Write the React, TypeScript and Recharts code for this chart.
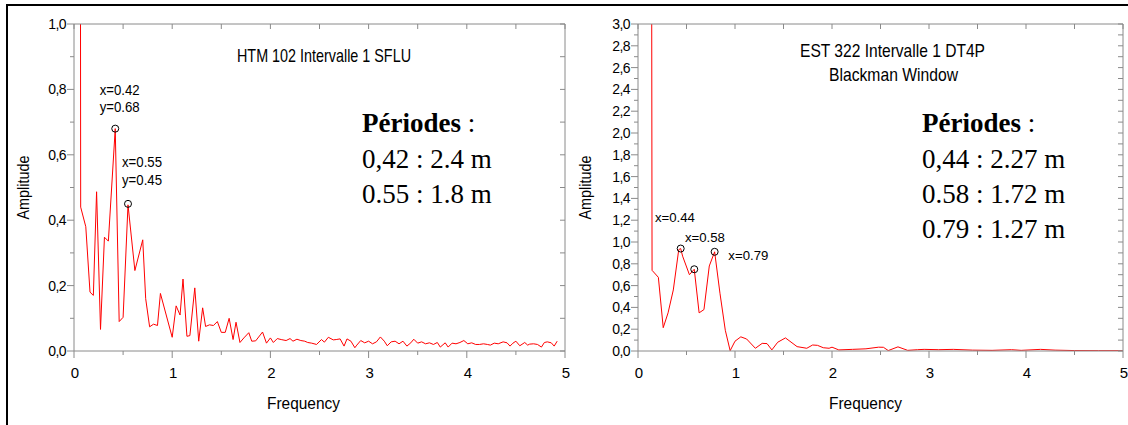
import React from "react";
import { LineChart, Line, XAxis, YAxis, ReferenceDot } from "recharts";

// left panel: HTM 102, amplitude spectrum (first point runs off the top)
const leftFreq = [
  0.06, 0.068, 0.12, 0.163, 0.197, 0.23, 0.27, 0.31, 0.35, 0.42, 0.46, 0.5, 0.55, 0.62, 0.7, 0.73,
  0.77, 0.81, 0.85, 0.88, 1.0, 1.04, 1.08, 1.11, 1.15, 1.18, 1.23, 1.27, 1.31, 1.34, 1.38, 1.42,
  1.46, 1.5, 1.54, 1.58, 1.62, 1.65, 1.69, 1.73, 1.78, 1.81, 1.85, 1.92, 1.96, 2.0, 2.03, 2.07,
  2.11, 2.16, 2.2, 2.23, 2.27, 2.31, 2.35, 2.38, 2.42, 2.47, 2.52, 2.55, 2.59, 2.64, 2.67, 2.71,
  2.75, 2.78, 2.82, 2.86, 2.88, 2.92, 2.96, 3.0, 3.04, 3.08, 3.12, 3.16, 3.19, 3.23, 3.27, 3.31,
  3.35, 3.39, 3.43, 3.46, 3.5, 3.54, 3.58, 3.62, 3.66, 3.7, 3.73, 3.78, 3.81, 3.85, 3.89, 3.93,
  3.97, 4.01, 4.05, 4.09, 4.13, 4.17, 4.21, 4.24, 4.28, 4.32, 4.37, 4.41, 4.44, 4.47, 4.5, 4.54,
  4.59, 4.62, 4.64, 4.68, 4.72, 4.76, 4.79, 4.82, 4.86, 4.89, 4.92,
];
const leftAmp = [
  3.0, 0.44, 0.38, 0.18, 0.17, 0.487, 0.066, 0.348, 0.336, 0.68, 0.09, 0.103, 0.447, 0.246, 0.34, 0.16,
  0.074, 0.082, 0.078, 0.176, 0.042, 0.138, 0.11, 0.22, 0.045, 0.047, 0.193, 0.03, 0.132, 0.075, 0.08, 0.078,
  0.09, 0.057, 0.057, 0.1, 0.035, 0.088, 0.026, 0.04, 0.056, 0.03, 0.031, 0.058, 0.024, 0.04, 0.026, 0.038,
  0.035, 0.032, 0.038, 0.03, 0.036, 0.032, 0.03, 0.026, 0.024, 0.02, 0.035, 0.027, 0.042, 0.034, 0.035, 0.037,
  0.015, 0.037, 0.03, 0.01, 0.018, 0.032, 0.025, 0.03, 0.022, 0.028, 0.043, 0.03, 0.016, 0.028, 0.03, 0.022,
  0.03, 0.015, 0.025, 0.036, 0.024, 0.028, 0.022, 0.025, 0.02, 0.026, 0.012, 0.025, 0.012, 0.024, 0.022, 0.026,
  0.032, 0.022, 0.025, 0.02, 0.02, 0.022, 0.02, 0.018, 0.024, 0.022, 0.028, 0.025, 0.015, 0.024, 0.03, 0.016,
  0.026, 0.018, 0.021, 0.022, 0.02, 0.012, 0.026, 0.028, 0.025, 0.015, 0.03,
];

// right panel: EST 322, Blackman window
const rightFreq = [
  0.14, 0.145, 0.21, 0.26, 0.31, 0.364, 0.42, 0.44, 0.46, 0.53, 0.58, 0.63, 0.68, 0.735, 0.79, 0.845,
  0.9, 0.95, 1.0, 1.06, 1.12, 1.21, 1.28, 1.33, 1.38, 1.44, 1.52, 1.64, 1.74, 1.8, 1.85, 1.91,
  1.97, 2.0, 2.07, 2.21, 2.35, 2.48, 2.53, 2.58, 2.68, 2.78, 2.88, 2.95, 3.1, 3.25, 3.45, 3.65,
  3.85, 3.95, 4.15, 4.3, 4.5, 4.75, 5.0,
];
const rightAmp = [
  4.0, 0.74, 0.676, 0.214, 0.35, 0.56, 0.93, 0.94, 0.87, 0.7, 0.75, 0.35, 0.38, 0.78, 0.91, 0.53,
  0.19, 0.003, 0.09, 0.13, 0.11, 0.025, 0.07, 0.068, 0.01, 0.08, 0.12, 0.04, 0.025, 0.055, 0.052, 0.03,
  0.025, 0.035, 0.01, 0.015, 0.02, 0.035, 0.034, 0.004, 0.038, 0.006, 0.012, 0.015, 0.012, 0.015, 0.008, 0.006,
  0.012, 0.006, 0.015, 0.008, 0.004, 0.003, 0.003,
];

const leftPeaks = [
  { x: 0.42, y: 0.68 },
  { x: 0.55, y: 0.45 },
];
const rightPeaks = [
  { x: 0.44, y: 0.94 },
  { x: 0.58, y: 0.75 },
  { x: 0.79, y: 0.91 },
];

const xTicks = [0, 0.5, 1, 1.5, 2, 2.5, 3, 3.5, 4, 4.5, 5];
const leftYTicks = [0, 0.1, 0.2, 0.3, 0.4, 0.5, 0.6, 0.7, 0.8, 0.9, 1.0];
const rightYTicks = [
  0, 0.1, 0.2, 0.3, 0.4, 0.5, 0.6, 0.7, 0.8, 0.9, 1.0, 1.1, 1.2, 1.3, 1.4, 1.5, 1.6, 1.7, 1.8, 1.9,
  2.0, 2.1, 2.2, 2.3, 2.4, 2.5, 2.6, 2.7, 2.8, 2.9, 3.0,
];

const leftTitle = ["HTM 102 Intervalle 1 SFLU"];
const rightTitle = ["EST 322 Intervalle 1 DT4P", "Blackman Window"];
const leftPeriods = ["0,42 : 2.4 m", "0.55 : 1.8 m"];
const rightPeriods = ["0,44 : 2.27 m", "0.58 : 1.72 m", "0.79 : 1.27 m"];

// label placement relative to each circled peak
const leftPeakOffsets = [
  { dx: -15.6, dy: [-34, -17] },
  { dx: -6, dy: [-37, -19] },
];
const rightPeakOffsets = [
  { dx: -25.7, dy: [-26.5] },
  { dx: -9.3, dy: [-27.6] },
  { dx: 13.7, dy: [8.2] },
];

const AXIS = "#8a8a8a";
const SANS = "'Liberation Sans', Arial, sans-serif";
const SERIF = "'Liberation Serif', 'Times New Roman', serif";

const isMajor = (v: number, step: number) => Math.abs(v / step - Math.round(v / step)) < 1e-6;
const fmt = (v: number) => v.toFixed(1).replace(".", ",");

const BottomTick = ({ x, y, payload }: any) => {
  const major = isMajor(payload.value, 1);
  return (
    <g>
      <line x1={x} x2={x} y1={y} y2={y + (major ? 7 : 4)} stroke={AXIS} />
      {major && (
        <text x={x + 1} y={y + 27} textAnchor="middle" fontSize={15} fill="#000">
          {payload.value}
        </text>
      )}
    </g>
  );
};

const LeftTick = ({ x, y, payload }: any) => {
  const major = isMajor(payload.value, 0.2);
  return (
    <g>
      <line x1={x - (major ? 7 : 4)} x2={x} y1={y} y2={y} stroke={AXIS} />
      {major && (
        <text x={x - 8} y={y + 5} textAnchor="end" fontSize={14} letterSpacing={-0.6} fill="#000">
          {fmt(payload.value)}
        </text>
      )}
    </g>
  );
};

const TopTick = ({ x, y }: any) => <line x1={x} x2={x} y1={y} y2={y + 5} stroke={AXIS} />;
const RightTick = ({ x, y }: any) => <line x1={x - 5} x2={x} y1={y} y2={y} stroke={AXIS} />;

// plot area is fixed by margin + axis sizes: left 74, top 24, bottom 74
function Spectrum({ freq, amp, yMax, yTicks, peaks, offsets, showY, labelSize, width, right }: any) {
  const data = freq.map((f: number, i: number) => ({ f, a: amp[i] }));
  return (
    <LineChart
      width={width}
      height={425}
      data={data}
      margin={{ top: 4, right: right - 20, bottom: 34, left: 34 }}
    >
      <XAxis
        dataKey="f"
        type="number"
        domain={[0, 5]}
        allowDataOverflow
        ticks={xTicks}
        interval={0}
        height={40}
        tickSize={0}
        tickMargin={0}
        tickLine={false}
        axisLine={{ stroke: AXIS }}
        tick={(p: any) => <BottomTick {...p} />}
      />
      <XAxis
        xAxisId="top"
        orientation="top"
        dataKey="f"
        type="number"
        domain={[0, 5]}
        allowDataOverflow
        ticks={xTicks}
        interval={0}
        height={20}
        tickSize={0}
        tickMargin={0}
        tickLine={false}
        axisLine={{ stroke: AXIS }}
        tick={(p: any) => <TopTick {...p} />}
      />
      <YAxis
        type="number"
        domain={[0, yMax]}
        allowDataOverflow
        ticks={yTicks}
        interval={0}
        width={40}
        tickSize={0}
        tickMargin={0}
        tickLine={false}
        axisLine={{ stroke: AXIS }}
        tick={(p: any) => <LeftTick {...p} />}
      />
      <YAxis
        yAxisId="right"
        orientation="right"
        type="number"
        domain={[0, yMax]}
        allowDataOverflow
        ticks={yTicks}
        interval={0}
        width={20}
        tickSize={0}
        tickMargin={0}
        tickLine={false}
        axisLine={{ stroke: AXIS }}
        tick={(p: any) => <RightTick {...p} />}
      />
      <Line
        dataKey="a"
        type="linear"
        stroke="#ff0000"
        strokeWidth={1}
        dot={false}
        isAnimationActive={false}
      />
      {peaks.map((pk: any, i: number) => (
        <ReferenceDot
          key={i}
          x={pk.x}
          y={pk.y}
          r={3.5}
          shape={(p: any) => {
            const lines = showY ? [`x=${pk.x}`, `y=${pk.y}`] : [`x=${pk.x}`];
            return (
              <g>
                <circle cx={p.cx} cy={p.cy} r={3.5} fill="none" stroke="#000" strokeWidth={1} />
                {lines.map((t, j) => (
                  <text
                    key={j}
                    x={p.cx + offsets[i].dx}
                    y={p.cy + offsets[i].dy[j]}
                    fontSize={labelSize}
                    textLength={40}
                    lengthAdjust="spacingAndGlyphs"
                    fill="#000"
                  >
                    {t}
                  </text>
                ))}
              </g>
            );
          }}
        />
      ))}
    </LineChart>
  );
}

export default function App() {
  return (
    <div
      style={{
        position: "absolute",
        left: 0,
        top: 0,
        width: 1128,
        height: 425,
        background: "#fff",
        fontFamily: SANS,
        overflow: "hidden",
      }}
    >
      <div
        style={{
          position: "absolute",
          left: 6,
          top: 4,
          width: 1130,
          height: 430,
          borderLeft: "2px solid #000",
          borderTop: "2px solid #000",
        }}
      />
      <div style={{ position: "absolute", left: 0, top: 0 }}>
        <Spectrum
          freq={leftFreq}
          amp={leftAmp}
          yMax={1}
          yTicks={leftYTicks}
          peaks={leftPeaks}
          offsets={leftPeakOffsets}
          showY
          labelSize={15}
          width={580}
          right={15}
        />
      </div>
      <div style={{ position: "absolute", left: 564, top: 0 }}>
        <Spectrum
          freq={rightFreq}
          amp={rightAmp}
          yMax={3}
          yTicks={rightYTicks}
          peaks={rightPeaks}
          offsets={rightPeakOffsets}
          showY={false}
          labelSize={12.5}
          width={584}
          right={25}
        />
      </div>
      <svg
        width={1128}
        height={425}
        style={{ position: "absolute", left: 0, top: 0, pointerEvents: "none" }}
      >
        <text x={237} y={62} fontSize={19} textLength={174} lengthAdjust="spacingAndGlyphs">
          {leftTitle[0]}
        </text>
        <text x={800} y={57} fontSize={19} textLength={185} lengthAdjust="spacingAndGlyphs">
          {rightTitle[0]}
        </text>
        <text x={829} y={81} fontSize={19} textLength={129} lengthAdjust="spacingAndGlyphs">
          {rightTitle[1]}
        </text>

        <text x={29} y={187.5} fontSize={17} textAnchor="middle" textLength={64}
          lengthAdjust="spacingAndGlyphs" transform="rotate(-90 29 187.5)">
          Amplitude
        </text>
        <text x={591} y={187.5} fontSize={17} textAnchor="middle" textLength={64}
          lengthAdjust="spacingAndGlyphs" transform="rotate(-90 591 187.5)">
          Amplitude
        </text>
        <text x={267} y={409} fontSize={17} textLength={73} lengthAdjust="spacingAndGlyphs">
          Frequency
        </text>
        <text x={829} y={409} fontSize={17} textLength={73} lengthAdjust="spacingAndGlyphs">
          Frequency
        </text>

        <g fontFamily={SERIF} fontSize={27} fill="#000">
          <text x={362} y={132}>
            <tspan fontWeight="bold">Périodes</tspan>
            <tspan> :</tspan>
          </text>
          {leftPeriods.map((t, i) => (
            <text key={t} x={362} y={168 + i * 35}>
              {t}
            </text>
          ))}
          <text x={922} y={132}>
            <tspan fontWeight="bold">Périodes</tspan>
            <tspan> :</tspan>
          </text>
          {rightPeriods.map((t, i) => (
            <text key={t} x={922} y={168 + i * 35}>
              {t}
            </text>
          ))}
        </g>
      </svg>
    </div>
  );
}
